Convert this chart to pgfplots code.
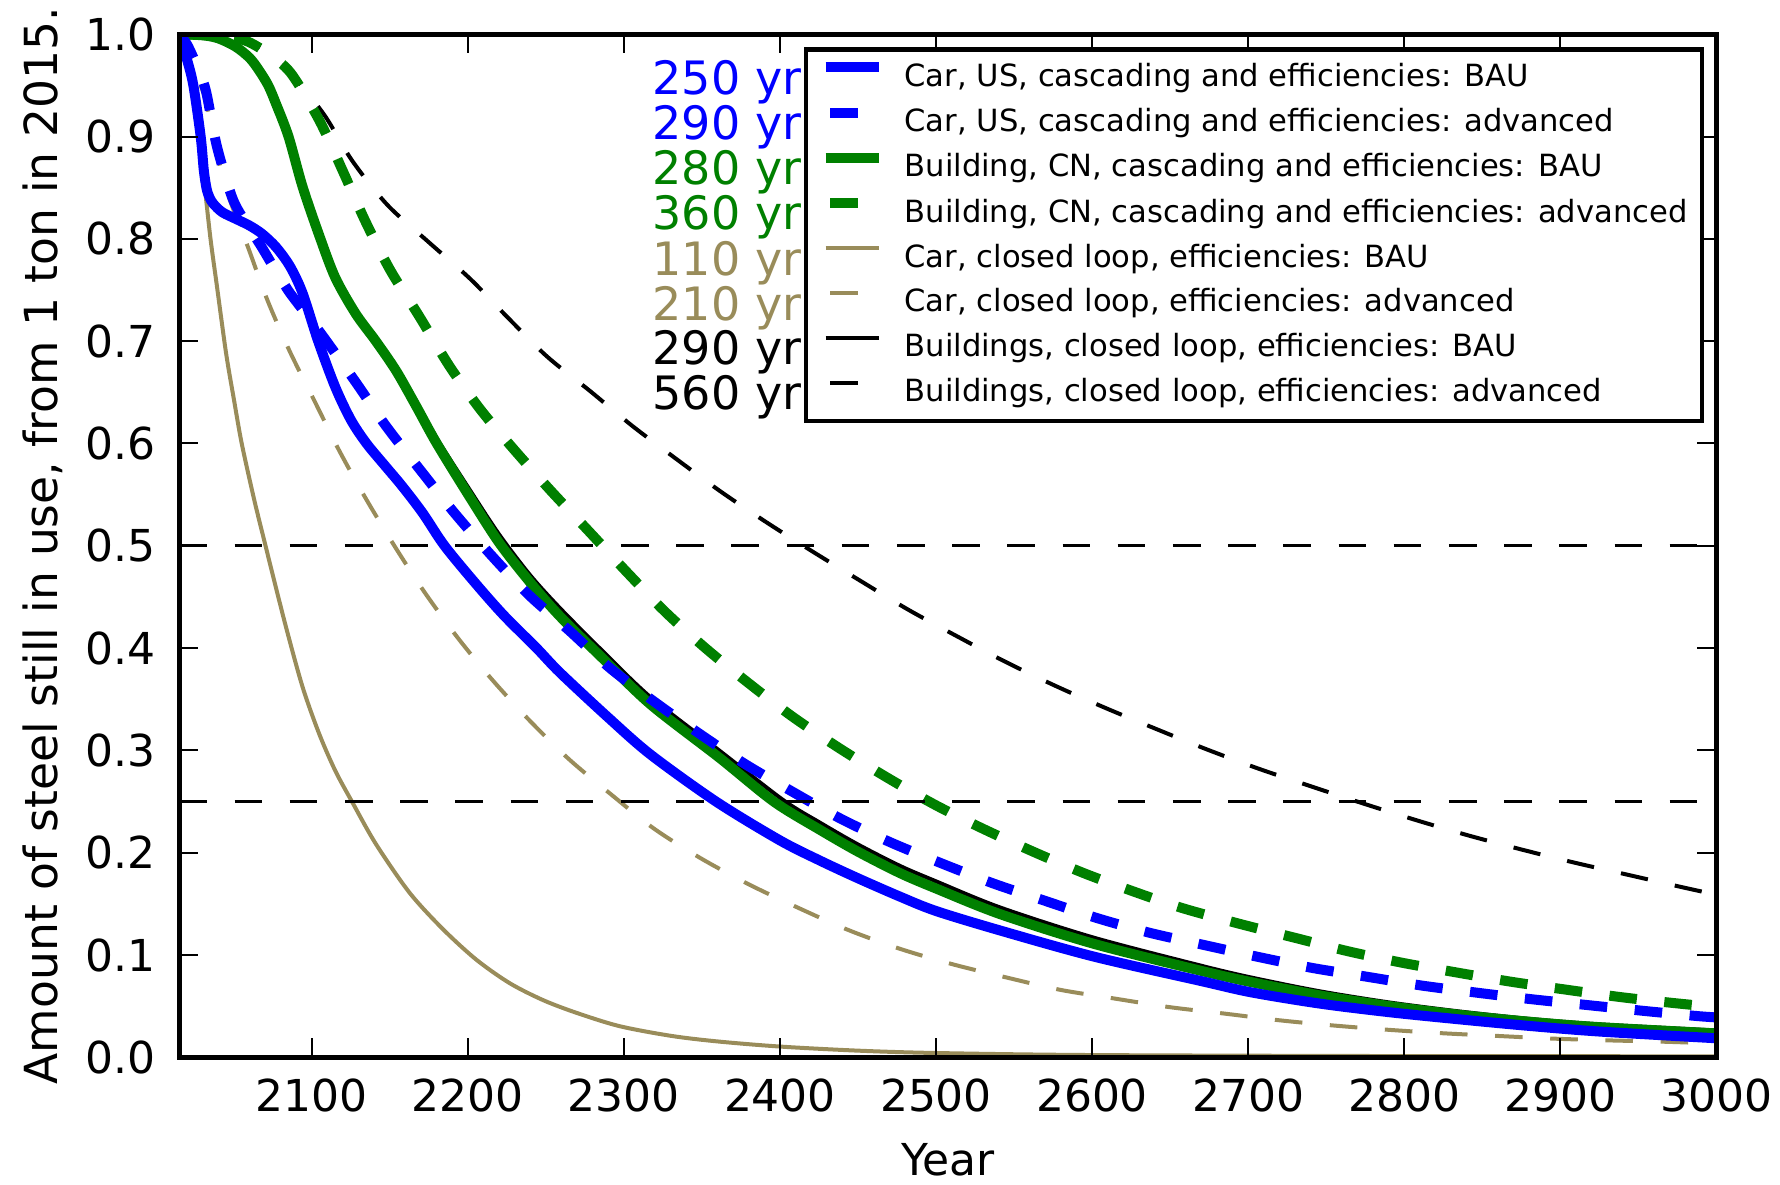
\documentclass[border=0pt]{standalone}
\usepackage{fontspec}
\setmainfont{DejaVu Sans}
\usepackage{pgfplots}
\pgfplotsset{compat=1.18}
\definecolor{cblue}{RGB}{0,0,255}
\definecolor{cgreen}{RGB}{0,128,0}
\definecolor{ctan}{RGB}{153,140,90}
\tikzset{mydash/.style={dash pattern=on 6.9pt off 6.9pt}}

\begin{document}
\begin{tikzpicture}
\begin{axis}[
  at={(0,0)}, anchor=south west,
  scale only axis, width=384.2pt, height=255.75pt,
  xmin=2015, xmax=3000, ymin=0, ymax=1,
  xtick={2100,2200,2300,2400,2500,2600,2700,2800,2900,3000},
  ytick={0,0.1,0.2,0.3,0.4,0.5,0.6,0.7,0.8,0.9,1.0},
  /pgf/number format/assume math mode=true,
  /pgf/number format/1000 sep={},
  tick label style={font=\fontsize{11}{13}\selectfont},
  x tick label style={inner sep=0pt, yshift=-5.2pt},
  y tick label style={inner sep=0pt, xshift=-5.8pt,
    /pgf/number format/fixed, /pgf/number format/fixed zerofill,
    /pgf/number format/precision=1},
  tick align=inside, major tick length=4.7pt,
  tick style={line width=0.5pt, black},
  axis line style={line width=1.2pt},
  axis on top,
  xlabel={Year},
  ylabel={Amount of steel still in use, from 1 ton in 2015.},
  xlabel style={font=\fontsize{11}{13}\selectfont,
    at={(axis description cs:0.5002,-0.1004)}, anchor=center},
  ylabel style={font=\fontsize{11.4}{13}\selectfont,
    at={(axis description cs:-0.0887,0.5)}, anchor=center},
  legend style={at={(0.4065,0.9871)}, anchor=north west, draw=black,
    line width=1.1pt, inner xsep=3.6pt, inner ysep=3.15pt, row sep=3.6pt,
    font=\fontsize{7.65}{9}\selectfont,
    nodes={inner sep=0pt, text height=5.8pt, text depth=1.8pt},
    /tikz/every odd column/.append style={column sep=5.1pt}},
  legend cell align=left,
  legend image code/.code={\draw[#1, dash phase=12.65pt] (0pt,2.7pt) -- (13.4pt,2.7pt);},
]

% legend entries first, curves below are drawn with forget plot
\addlegendimage{cblue, line width=2.5pt}
\addlegendentry{Car, US, cascading and efficiencies: BAU}
\addlegendimage{cblue, line width=2.5pt, mydash}
\addlegendentry{Car, US, cascading and efficiencies: advanced}
\addlegendimage{cgreen, line width=2.5pt}
\addlegendentry{Building, CN, cascading and efficiencies: BAU}
\addlegendimage{cgreen, line width=2.5pt, mydash}
\addlegendentry{Building, CN, cascading and efficiencies: advanced}
\addlegendimage{ctan, line width=1pt}
\addlegendentry{Car, closed loop, efficiencies: BAU}
\addlegendimage{ctan, line width=1pt, mydash}
\addlegendentry{Car, closed loop, efficiencies: advanced}
\addlegendimage{black, line width=1pt}
\addlegendentry{Buildings, closed loop, efficiencies: BAU}
\addlegendimage{black, line width=1pt, mydash}
\addlegendentry{Buildings, closed loop, efficiencies: advanced}

% car, closed loop, BAU
\addplot[ctan, line width=1pt, smooth, forget plot] coordinates {
(2015,1.0) (2020,0.975) (2025,0.935) (2028,0.895) (2031,0.855) (2035,0.80)
(2039,0.755) (2045,0.688) (2050,0.643) (2055,0.60) (2063,0.545) (2069.3,0.506)
(2073.6,0.4795) (2083.3,0.421) (2094,0.362) (2104.7,0.316) (2115,0.280)
(2126,0.249) (2141,0.2085) (2162.5,0.161) (2183.8,0.1255) (2205.3,0.0955)
(2226.7,0.0725) (2248,0.056) (2269.5,0.0435) (2297,0.0305) (2330,0.021)
(2360,0.0155) (2400,0.0105) (2450,0.0065) (2500,0.0042) (2600,0.0022)
(2800,0.0012) (3000,0.001)};

% car, closed loop, advanced
\addplot[ctan, line width=1pt, mydash, smooth, forget plot] coordinates {
(2015,1.0) (2020,0.985) (2026,0.96) (2032,0.935) (2039,0.885) (2047,0.84)
(2059,0.792) (2071.5,0.74) (2085.8,0.69) (2101.5,0.642) (2117.5,0.593)
(2134.6,0.546) (2153,0.4996) (2172,0.455) (2193,0.411) (2215,0.370) (2239,0.33)
(2264.6,0.2916) (2291.4,0.2574) (2319,0.2238) (2348.7,0.195) (2379.6,0.1694)
(2411,0.1466) (2444,0.1243) (2477.4,0.1058) (2511,0.0908) (2545.5,0.0779)
(2579.8,0.0659) (2615,0.0573) (2649.4,0.0491) (2685,0.0427) (2720,0.0362)
(2755.5,0.031) (2790.7,0.0268) (2826,0.0234) (2861,0.0208) (2896.6,0.0182)
(2932,0.0165) (2967,0.0152) (3000,0.0135)};

% buildings, closed loop, BAU
\addplot[black, line width=1pt, smooth, forget plot] coordinates {
(2015,1.0) (2030,0.999) (2040,0.996) (2051,0.988) (2060,0.977) (2066,0.965)
(2072,0.95) (2077,0.932) (2085,0.90) (2094,0.851) (2105,0.802) (2115,0.762)
(2128,0.727) (2141,0.70) (2154,0.673) (2167,0.64) (2180,0.605) (2201,0.555)
(2220,0.511) (2240,0.471) (2259,0.439) (2285,0.399) (2317,0.352) (2361,0.300)
(2402,0.2515) (2426,0.229) (2450,0.208) (2477,0.187) (2500,0.172) (2541,0.1465)
(2601,0.117) (2670,0.0895) (2702,0.078) (2746,0.0645) (2791,0.0535)
(2836,0.0447) (2880,0.0376) (2925,0.0322) (3000,0.0262)};

% buildings, closed loop, advanced
\addplot[black, line width=1pt, mydash, smooth, forget plot] coordinates {
(2015,1.0) (2035,0.999) (2045,0.998) (2058.7,0.993) (2072,0.981) (2087,0.961)
(2108,0.921) (2126,0.876) (2148.5,0.833) (2174.7,0.797) (2201.4,0.761)
(2225.6,0.723) (2250.7,0.685) (2278.5,0.651) (2305.5,0.617) (2333.6,0.5848)
(2362.4,0.5526) (2391.8,0.5225) (2421.6,0.4937) (2451.5,0.4658) (2481.8,0.4379)
(2512.8,0.4121) (2543.7,0.3872) (2575.8,0.3636) (2607.8,0.342) (2641,0.321)
(2673.7,0.3009) (2707,0.282) (2740.5,0.2648) (2774,0.248) (2808,0.2317)
(2841.6,0.2167) (2875.8,0.2029) (2910,0.19) (2944.6,0.178) (2979,0.166)
(3000,0.159)};

% building, CN, BAU
\addplot[cgreen, line width=2.5pt, smooth, forget plot] coordinates {
(2015,1.0) (2030,0.999) (2040,0.996) (2051,0.988) (2060,0.977) (2066,0.965)
(2072,0.95) (2077,0.932) (2085,0.90) (2094,0.851) (2105,0.802) (2115,0.762)
(2128,0.727) (2141,0.70) (2154,0.671) (2167,0.636) (2180,0.60) (2201,0.548)
(2220,0.503) (2240,0.464) (2259,0.431) (2285,0.392) (2317,0.345) (2361,0.293)
(2396,0.25) (2426,0.222) (2450,0.201) (2477,0.18) (2500,0.165) (2541,0.140)
(2601,0.111) (2670,0.0845) (2702,0.0735) (2746,0.0605) (2791,0.050)
(2836,0.0415) (2880,0.0348) (2925,0.0295) (3000,0.0234)};

% building, CN, advanced
\addplot[cgreen, line width=2.5pt, mydash, smooth, forget plot] coordinates {
(2015,1.0) (2035,0.999) (2045,0.998) (2058.7,0.993) (2072,0.981) (2086.5,0.962)
(2104.7,0.916) (2119.6,0.867) (2134,0.818) (2150,0.770) (2168.5,0.725)
(2188,0.676) (2207.6,0.634) (2229,0.595) (2253,0.554) (2277,0.515) (2302,0.474)
(2327,0.4346) (2353,0.399) (2380,0.3656) (2408,0.333) (2437.6,0.3026)
(2467.4,0.2746) (2498.4,0.2476) (2529.3,0.224) (2561.4,0.2016) (2594.6,0.1801)
(2627.3,0.1617) (2658,0.1458) (2695,0.1303) (2729.6,0.117) (2764,0.1037)
(2798.5,0.0925) (2833,0.0831) (2868,0.074) (2903,0.0663) (2938,0.059)
(2973,0.053) (3000,0.049)};

% car, US, BAU
\addplot[cblue, line width=2.5pt, smooth, forget plot] coordinates {
(2015,1.0) (2020,0.975) (2024,0.95) (2028.7,0.90) (2030.7,0.867) (2032.5,0.849)
(2034.5,0.84) (2037,0.834) (2042.6,0.826) (2052,0.819) (2060,0.813) (2068,0.805)
(2077,0.792) (2086,0.773) (2094,0.747) (2104,0.70) (2115,0.655) (2125,0.623)
(2135,0.60) (2147,0.578) (2158,0.558) (2171,0.532) (2185,0.50) (2205,0.463)
(2223,0.432) (2244,0.40) (2259,0.376) (2290,0.332) (2317,0.296) (2359,0.25)
(2400,0.212) (2426,0.192) (2450,0.175) (2477,0.157) (2500,0.143) (2541,0.124)
(2601,0.0985) (2670,0.0745) (2702,0.0635) (2746,0.0525) (2791,0.044)
(2836,0.037) (2880,0.0307) (2925,0.0252) (3000,0.0186)};

% car, US, advanced
\addplot[cblue, line width=2.5pt, mydash, smooth, forget plot] coordinates {
(2015,1.0) (2020,0.99) (2026,0.97) (2032,0.945) (2039,0.891) (2049,0.84)
(2058,0.815) (2067,0.794) (2076,0.771) (2085.5,0.748) (2096,0.727) (2107,0.705)
(2127.6,0.661) (2147.5,0.617) (2170,0.573) (2191.4,0.532) (2214.8,0.491)
(2239,0.452) (2265,0.417) (2291.4,0.380) (2320,0.347) (2348.7,0.316)
(2377.6,0.2867) (2408,0.2596) (2438.7,0.2334) (2470.7,0.2102) (2503.5,0.1896)
(2536.6,0.170) (2569.8,0.153) (2603.4,0.136) (2637,0.1217) (2672,0.1097)
(2706.6,0.0981) (2741,0.0874) (2776,0.0788) (2811,0.0702) (2846,0.0633)
(2881,0.0569) (2916,0.0513) (2951.5,0.0457) (2986.5,0.0405) (3000,0.039)};

% half and quarter lines
\addplot[black, line width=0.8pt, mydash, forget plot] coordinates {(2015,0.5) (3000,0.5)};
\addplot[black, line width=0.8pt, mydash, forget plot] coordinates {(2015,0.25) (3000,0.25)};

\begin{scope}[every node/.style={anchor=base east, inner sep=0pt, font=\fontsize{11.5}{13}\selectfont}]
\node[text=cblue] at (rel axis cs:0.4052,0.9407) {250 yr};
\node[text=cblue] at (rel axis cs:0.4052,0.8967) {290 yr};
\node[text=cgreen] at (rel axis cs:0.4052,0.8527) {280 yr};
\node[text=cgreen] at (rel axis cs:0.4052,0.8087) {360 yr};
\node[text=ctan] at (rel axis cs:0.4052,0.7647) {110 yr};
\node[text=ctan] at (rel axis cs:0.4052,0.7207) {210 yr};
\node[text=black] at (rel axis cs:0.4052,0.6768) {290 yr};
\node[text=black] at (rel axis cs:0.4052,0.6328) {560 yr};
\end{scope}
\end{axis}
\pgfresetboundingbox
\path (-44.83pt,-31.68pt) rectangle (400.17pt,264.33pt);
\end{tikzpicture}
\end{document}
